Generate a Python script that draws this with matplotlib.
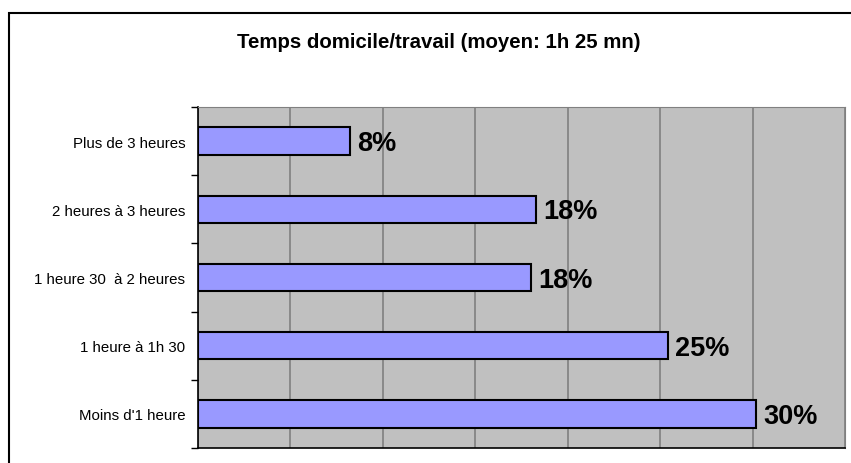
import matplotlib
matplotlib.use("Agg")
import matplotlib.pyplot as plt
from matplotlib.patches import Rectangle

plt.rcParams['font.family'] = ['Liberation Sans', 'DejaVu Sans']

title = "Temps domicile/travail (moyen: 1h 25 mn)"
categories = ["Moins d'1 heure", "1 heure à 1h 30", "1 heure 30  à 2 heures",
              "2 heures à 3 heures", "Plus de 3 heures"]
values = [30.2, 25.4, 18.0, 18.3, 8.2]
labels = ["30%", "25%", "18%", "18%", "8%"]

fig = plt.figure(figsize=(8.51, 4.64), dpi=100)
ax = fig.add_axes([198/851, 1-449/464, (845-198)/851, (449-108)/464])
ax.set_facecolor('#C0C0C0')

ypos = list(range(len(categories)))
ax.barh(ypos, values, height=0.4, color='#9999FF', edgecolor='black', linewidth=1.5, zorder=3)
for y, v, lab in zip(ypos, values, labels):
    ax.text(v + 0.4, y - 0.03, lab, va='center', ha='left', fontsize=19.5,
            fontweight='bold', zorder=4)

ax.set_xlim(0, 35)
ax.set_ylim(-0.5, len(categories) - 0.5)
ax.set_xticks([0, 5, 10, 15, 20, 25, 30, 35])
ax.set_xticklabels([])
ax.tick_params(axis='x', length=0)
ax.grid(axis='x', color='#808080', linewidth=1.2, zorder=1)

ax.set_yticks(ypos)
ax.set_yticklabels(categories, fontsize=10.8)
ax.tick_params(axis='y', which='major', length=0, pad=9)
ax.set_yticks([i - 0.5 for i in range(len(categories) + 1)], minor=True)
ax.tick_params(axis='y', which='minor', length=5, width=1, direction='out')

ax.spines['left'].set_color('black')
ax.spines['left'].set_linewidth(1.2)
ax.spines['bottom'].set_color('black')
ax.spines['bottom'].set_linewidth(1.2)
ax.spines['top'].set_color('#808080')
ax.spines['right'].set_color('#808080')

fig.text(439/851, 1-43/464, title, ha='center', va='center', fontsize=14.7, fontweight='bold')

frame = Rectangle((9/851, -0.1), 1.2, 1 - 14/464 + 0.1, transform=fig.transFigure,
                  fill=False, edgecolor='black', linewidth=1.5, clip_on=False)
fig.patches.append(frame)

fig.savefig('out.png', dpi=100)
